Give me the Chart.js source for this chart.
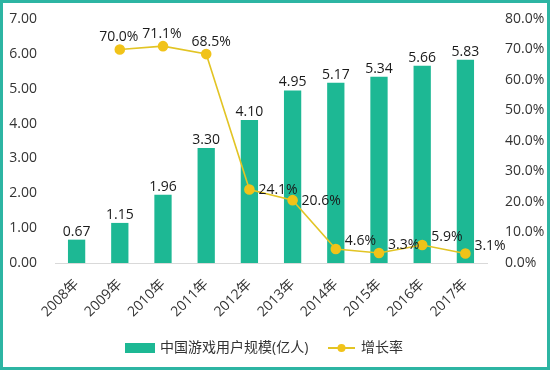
<!DOCTYPE html>
<html>
<head>
<meta charset="utf-8">
<script src="https://cdn.jsdelivr.net/npm/chart.js@4"></script>
<style>
html,body{margin:0;padding:0;background:#fff;}
#wrap{width:550px;height:370px;position:relative;}
</style>
</head>
<body>
<div id="wrap"><canvas id="c" width="550" height="370"></canvas></div>
<script>
const categories = ['2008年','2009年','2010年','2011年','2012年','2013年','2014年','2015年','2016年','2017年'];
const users = [0.67, 1.15, 1.96, 3.30, 4.10, 4.95, 5.17, 5.34, 5.66, 5.83];
const growth = [null, 70.0, 71.1, 68.5, 24.1, 20.6, 4.6, 3.3, 5.9, 3.1];
const leftTicks = [0, 1, 2, 3, 4, 5, 6, 7];
const rightTicks = [0, 10, 20, 30, 40, 50, 60, 70, 80];

const FONT = '"Open Sans","Noto Sans CJK SC",sans-serif';
const BAR = '#1DB894';
const LINE = '#E2C424';
const DOT = '#F1C319';

const labelPlugin = {
  id: 'labels',
  beforeDraw(chart) {
    const ctx = chart.ctx;
    ctx.save();
    ctx.fillStyle = '#fff';
    ctx.fillRect(0, 0, chart.width, chart.height);
    ctx.restore();
  },
  afterDatasetsDraw(chart) {
    const ctx = chart.ctx;
    ctx.save();
    ctx.font = '14px ' + FONT;
    ctx.fillStyle = '#1a1a1a';
    const bm = chart.getDatasetMeta(0);
    bm.data.forEach((el, i) => {
      ctx.textAlign = 'center';
      ctx.textBaseline = 'bottom';
      ctx.fillText(users[i].toFixed(2), el.x, el.y - 1);
    });
    const lm = chart.getDatasetMeta(1);
    lm.data.forEach((el, i) => {
      if (growth[i] == null) return;
      const t = growth[i].toFixed(1) + '%';
      if (i <= 3) {
        ctx.textAlign = 'center';
        ctx.textBaseline = 'bottom';
        ctx.fillText(t, el.x + (i === 3 ? 5 : -1), el.y - 5);
      } else {
        ctx.textAlign = 'left';
        ctx.textBaseline = 'middle';
        const dy = growth[i] < 10 ? -8 : 1;
        ctx.fillText(t, el.x + 9, el.y + dy);
      }
    });
    ctx.restore();
  },
  afterDraw(chart) {
    const ctx = chart.ctx;
    ctx.save();
    const y = 348;
    ctx.font = '14px ' + FONT;
    ctx.textBaseline = 'middle';
    ctx.textAlign = 'left';
    ctx.fillStyle = BAR;
    ctx.fillRect(125, y - 5, 30, 10);
    ctx.fillStyle = '#333';
    ctx.fillText(chart.data.datasets[0].label, 160, y);
    ctx.strokeStyle = LINE;
    ctx.lineWidth = 2;
    ctx.beginPath();
    ctx.moveTo(328, y);
    ctx.lineTo(355, y);
    ctx.stroke();
    ctx.fillStyle = DOT;
    ctx.beginPath();
    ctx.arc(341.5, y, 4, 0, Math.PI * 2);
    ctx.fill();
    ctx.fillStyle = '#333';
    ctx.fillText(chart.data.datasets[1].label, 361, y);
    ctx.strokeStyle = '#2DB5A3';
    ctx.lineWidth = 3;
    ctx.strokeRect(1.5, 1.5, chart.width - 3, chart.height - 3);
    ctx.restore();
  }
};

new Chart(document.getElementById('c'), {
  data: {
    labels: categories,
    datasets: [
      {
        type: 'bar',
        label: '中国游戏用户规模(亿人)',
        data: users,
        backgroundColor: BAR,
        yAxisID: 'y',
        barPercentage: 0.8,
        categoryPercentage: 0.5,
        order: 2
      },
      {
        type: 'line',
        label: '增长率',
        data: growth,
        borderColor: LINE,
        borderWidth: 1.6,
        pointBackgroundColor: DOT,
        pointBorderColor: DOT,
        pointRadius: 4.5,
        tension: 0,
        yAxisID: 'y2',
        order: 1
      }
    ]
  },
  options: {
    responsive: false,
    animation: false,
    devicePixelRatio: 1,
    layout: { padding: { top: 19, bottom: 0, left: 0, right: 0 } },
    plugins: { legend: { display: false }, tooltip: { enabled: false } },
    scales: {
      x: {
        grid: { display: false, drawTicks: false },
        border: { color: '#D9D9D9', width: 1 },
        ticks: {
          maxRotation: 45, minRotation: 45, autoSkip: false,
          color: '#333', font: { size: 14, family: FONT }, padding: 13
        },
        afterFit(s) { s.height = 107; }
      },
      y: {
        position: 'left',
        min: 0, max: 7,
        afterBuildTicks(s) { s.ticks = leftTicks.map(v => ({ value: v })); },
        grid: { display: false },
        border: { display: false },
        ticks: { color: '#333', font: { size: 14, family: FONT }, padding: 10,
          callback: v => Number(v).toFixed(2) },
        afterFit(s) { s.width = 55; }
      },
      y2: {
        position: 'right',
        min: 0, max: 80,
        afterBuildTicks(s) { s.ticks = rightTicks.map(v => ({ value: v })); },
        grid: { display: false },
        border: { display: false },
        ticks: { color: '#333', font: { size: 14, family: FONT }, padding: 10,
          callback: v => Number(v).toFixed(1) + '%' },
        afterFit(s) { s.width = 63; }
      }
    }
  },
  plugins: [labelPlugin]
});
</script>
</body>
</html>
